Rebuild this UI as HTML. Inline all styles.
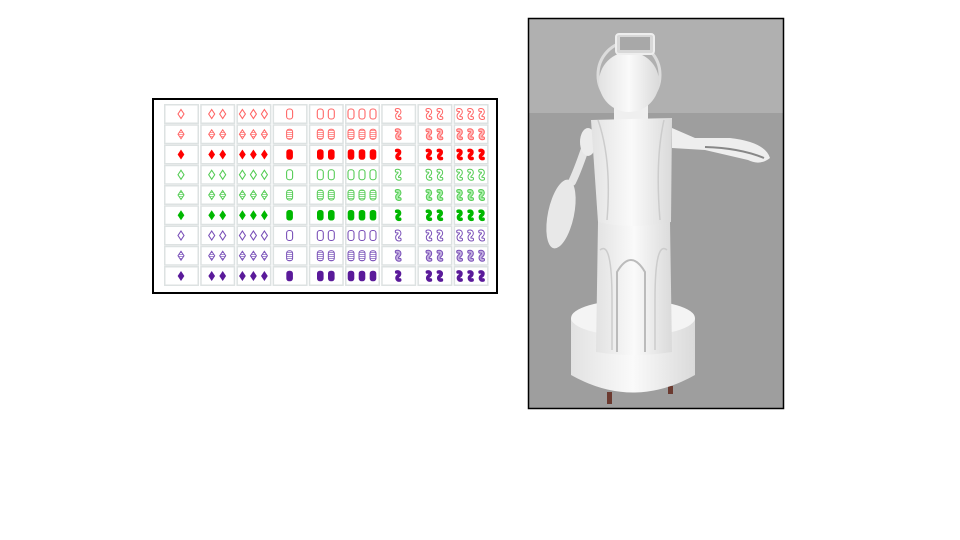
<!DOCTYPE html>
<html><head><meta charset="utf-8"><style>
html,body{margin:0;padding:0;background:#fff;width:960px;height:540px;overflow:hidden}
svg{display:block}
</style></head><body>
<svg id="s" width="960" height="540" viewBox="0 0 960 540" xmlns="http://www.w3.org/2000/svg">
<defs>
<pattern id="st-r" width="2" height="2" patternUnits="userSpaceOnUse"><rect width="2" height="1" fill="#f99"/></pattern>
<pattern id="st-g" width="2" height="2" patternUnits="userSpaceOnUse"><rect width="2" height="1" fill="#8d8"/></pattern>
<pattern id="st-p" width="2" height="2" patternUnits="userSpaceOnUse"><rect width="2" height="1" fill="#a58cd0"/></pattern>
<linearGradient id="skin" x1="0" x2="1"><stop offset="0" stop-color="#e2e2e2"/><stop offset="0.5" stop-color="#fafafa"/><stop offset="1" stop-color="#dadada"/></linearGradient>
</defs>
<rect x="153" y="99" width="344" height="194" fill="#fff" stroke="#000" stroke-width="2"/>
<g id="cards"></g>

<g>
<rect x="529" y="19" width="254" height="94" fill="#b0b0b0"/>
<rect x="529" y="113" width="254" height="295" fill="#9e9e9e"/>
<rect x="607" y="392" width="5" height="12" fill="#6b3a30"/>
<rect x="668" y="386" width="5" height="8" fill="#6b3a30"/>
<path d="M571 318 L571 375 Q633 410 695 375 L695 318 Z" fill="url(#skin)"/>
<ellipse cx="633" cy="318" rx="62" ry="18" fill="#f4f4f4"/>
<path d="M598 222 L670 222 L672 352 Q633 358 596 352 Z" fill="url(#skin)"/>
<path d="M617 352 L617 272 Q631 248 645 272 L645 352" fill="none" stroke="#bbb" stroke-width="2"/>
<path d="M600 250 Q612 240 612 300 L612 350" fill="none" stroke="#ccc" stroke-width="1.5"/>
<path d="M667 250 Q655 240 655 300 L655 350" fill="none" stroke="#ccc" stroke-width="1.5"/>
<path d="M588 140 Q578 170 572 182" stroke="#e6e6e6" stroke-width="8" fill="none" stroke-linecap="round"/>
<ellipse cx="588" cy="142" rx="8" ry="14" fill="#ececec"/>
<ellipse cx="561" cy="214" rx="13" ry="35" transform="rotate(12 561 214)" fill="#e8e8e8"/>
<path d="M672 128 L695 138 L730 138 Q765 142 770 158 Q760 166 748 160 L705 150 L672 148 Z" fill="#eeeeee"/>
<path d="M705 147 Q740 148 764 158" stroke="#888" stroke-width="2" fill="none"/>
<rect x="614" y="103" width="34" height="20" fill="#efefef"/>
<path d="M591 120 L672 118 L671 222 Q633 230 598 222 Z" fill="url(#skin)"/>
<path d="M598 120 Q612 160 607 220" stroke="#ccc" stroke-width="1.5" fill="none"/>
<path d="M664 120 Q655 160 660 220" stroke="#ccc" stroke-width="1.5" fill="none"/>
<ellipse cx="629" cy="75" rx="31" ry="33" fill="none" stroke="#dcdcdc" stroke-width="3"/>
<circle cx="629" cy="82" r="30" fill="url(#skin)"/>
<rect x="616" y="34" width="38" height="20" rx="3" fill="#d8d8d8" stroke="#eee" stroke-width="2"/>
<rect x="620" y="37" width="30" height="13" fill="#a8a8a8"/>
</g>
<rect x="528.5" y="18.5" width="255" height="390" fill="none" stroke="#000" stroke-width="1.5"/>
</svg>
<script>
const colors = ["red","green","purple"];
const fills = ["open","striped","solid"];
const shapes = ["diamond","oval","squiggle"];
const counts = [1,2,3];
const col = {red:"#f00",green:"#00b800",purple:"#5a1a9a"};
const lite = {red:"#f66",green:"#5c5",purple:"#7a50b8"};
const pale = {red:"#fbb",green:"#aea",purple:"#c3b0e0"};
const pat = {red:"url(#st-r)",green:"url(#st-g)",purple:"url(#st-p)"};
const NS="http://www.w3.org/2000/svg";
const g=document.getElementById('cards');
function mk(t,a){const e=document.createElementNS(NS,t);for(const k in a)e.setAttribute(k,a[k]);return e;}
function sym(shape,cx,cy,c,f){
  if(shape==="diamond"||shape==="oval"){
    const e = shape==="diamond" ? mk('path',{d:`M${cx} ${cy-4.5} L${cx+3} ${cy} L${cx} ${cy+4.5} L${cx-3} ${cy} Z`})
                               : mk('rect',{x:cx-3,y:cy-5,width:6,height:10,rx:2.5});
    if(f==="open"){e.setAttribute('fill','none');e.setAttribute('stroke',lite[c]);e.setAttribute('stroke-width','1.1');}
    else if(f==="striped"){e.setAttribute('fill',pat[c]);e.setAttribute('stroke',lite[c]);e.setAttribute('stroke-width','1');}
    else {e.setAttribute('fill',col[c]);e.setAttribute('stroke',col[c]);e.setAttribute('stroke-width','0.6');}
    return e;
  }
  const d=`M${cx-1.5} ${cy-4} C${cx+2.5} ${cy-4.5} ${cx+1.5} ${cy-1} ${cx} ${cy} C${cx-1.5} ${cy+1} ${cx-2} ${cy+4.5} ${cx+1.5} ${cy+4}`;
  const grp=mk('g',{});
  const outer=mk('path',{d:d,fill:'none','stroke-linecap':'round','stroke-width':f==="solid"?3.6:3.8,stroke:f==="solid"?col[c]:lite[c]});
  grp.appendChild(outer);
  if(f!=="solid"){
    const inner=mk('path',{d:d,fill:'none','stroke-linecap':'round','stroke-width':1.8,stroke:f==="open"?'#fff':pale[c]});
    grp.appendChild(inner);
  }
  return grp;
}
colors.forEach((c,ci)=>fills.forEach((f,fi)=>{
  const r=ci*3+fi, y=104+r*20.25;
  shapes.forEach((s,si)=>counts.forEach((n,ni)=>{
    const k=si*3+ni, x=164+k*36.2;
    const card=mk('g',{});
    
    
    const bg=mk('rect',{x:x+0.75,y:y+0.75,width:33.5,height:18.5,fill:'#fff',stroke:'#dde2e2','stroke-width':1.5});
    
    
    card.appendChild(bg);
    for(let i=0;i<n;i++){
      const cx=x+17+(i-(n-1)/2)*11, cy=y+10;
      const e=sym(s,cx,cy,c,f);
      
      
      card.appendChild(e);
    }
    g.appendChild(card);
  }));
}));
</script>
</body></html>
